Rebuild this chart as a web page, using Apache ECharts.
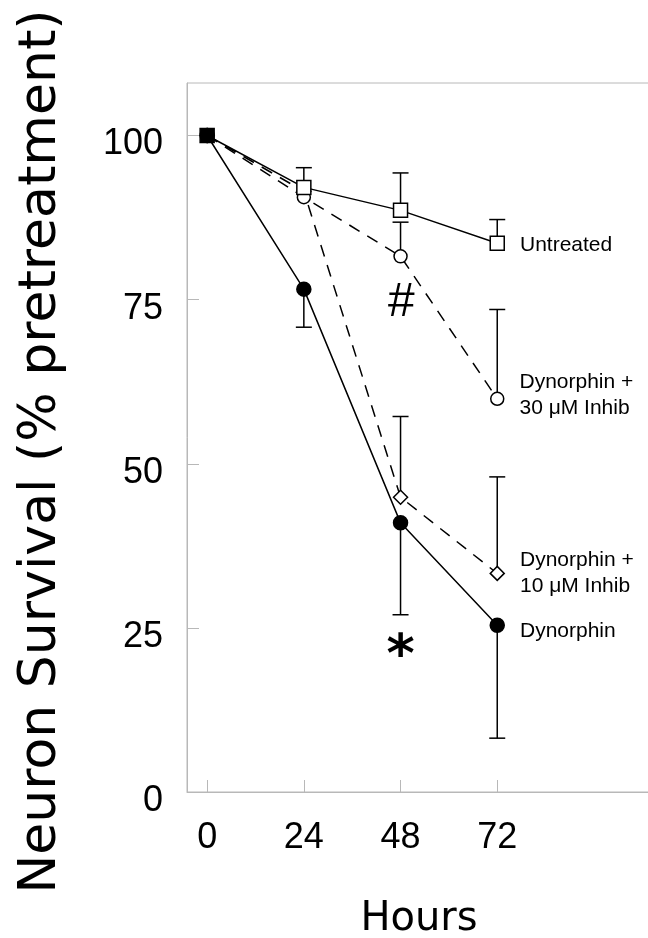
<!DOCTYPE html>
<html>
<head>
<meta charset="utf-8">
<script src="https://cdn.jsdelivr.net/npm/echarts@6/dist/echarts.min.js"></script>
<style>
  html, body { margin: 0; padding: 0; background: #fff; }
  #chart { width: 648px; height: 938px; }
</style>
</head>
<body>
<div id="chart"></div>
<script>
// hours after treatment
var hours = [0, 24, 48, 72];
var xTicks = [0, 24, 48, 72];
var yTicks = [0, 25, 50, 75, 100];

// survival (% pretreatment) and one-sided error bars
var untreated = [100, 92.1, 88.6, 83.6];
var untreatedErrUp = [0, 3.0, 5.7, 3.6];
var inhib30 = [100, 90.6, 81.6, 59.9];
var inhib30ErrUp = [0, 0, 5.2, 13.6];
var inhib10 = [100, 91.5, 44.9, 33.3];
var inhib10ErrUp = [0, 0, 12.3, 14.7];
var dynorphin = [100, 76.6, 41.0, 25.4];
var dynorphinErrDown = [0, 5.8, 14.0, 17.2];

var seriesNames = ['Untreated', 'Dynorphin +\n30 μM Inhib', 'Dynorphin +\n10 μM Inhib', 'Dynorphin'];

// significance marks at 48 h
var marks = [[48, 74.5, '#'], [48, 20.4, '*']];

var chart = echarts.init(document.getElementById('chart'));

function pairs(ys) {
    return hours.map(function (h, i) { return [h, ys[i]]; });
}

// error bar rows: [x, from, to]
function errRows(ys, up, down) {
    var rows = [];
    hours.forEach(function (h, i) {
        if (up && up[i] > 0) rows.push([h, ys[i], ys[i] + up[i]]);
        if (down && down[i] > 0) rows.push([h, ys[i], ys[i] - down[i]]);
    });
    return rows;
}

var errData = []
    .concat(errRows(untreated, untreatedErrUp))
    .concat(errRows(inhib30, inhib30ErrUp))
    .concat(errRows(inhib10, inhib10ErrUp))
    .concat(errRows(dynorphin, null, dynorphinErrDown));

function lineSeries(name, ys, symbol, size, fill, dashed, labelOffset) {
    var data = pairs(ys).map(function (p, i) {
        var d = { value: p };
        if (i === ys.length - 1) {
            d.label = {
                show: true,
                position: 'right',
                distance: 15,
                offset: [0, labelOffset],
                formatter: name,
                fontFamily: 'Liberation Sans',
                fontSize: 21,
                lineHeight: 26,
                color: '#000',
                align: 'left'
            };
        }
        return d;
    });
    return {
        name: name,
        type: 'line',
        data: data,
        symbol: symbol,
        symbolSize: size,
        showAllSymbol: true,
        animation: false,
        lineStyle: { color: '#000', width: 1.5, type: dashed ? [12, 9] : 'solid' },
        itemStyle: { color: fill, borderColor: '#000', borderWidth: 1.5 },
        z: 3
    };
}

var sDyn = lineSeries(seriesNames[3], dynorphin, 'circle', 14, '#000', false, 6);
var s10 = lineSeries(seriesNames[2], inhib10, 'diamond', 14, '#fff', true, 0);
var s30 = lineSeries(seriesNames[1], inhib30, 'circle', 13, '#fff', true, -4);
var sUnt = lineSeries(seriesNames[0], untreated, 'rect', 14, '#fff', false, 2);
// starting point drawn as a filled square
sUnt.data[0].itemStyle = { color: '#000' };

var markStyles = [
    { fontFamily: 'Liberation Sans', fontSize: 48, fontStyle: 'italic', fontWeight: 'normal' },
    { fontFamily: 'DejaVu Sans', fontSize: 54, fontStyle: 'normal', fontWeight: 'bold' }
];

var option = {
    backgroundColor: '#fff',
    grid: {
        left: 187, top: 83, right: -10, bottom: 146,
        outerBoundsMode: 'none',
        containLabel: false,
        show: true, borderColor: '#b8b8b8', borderWidth: 1
    },
    xAxis: {
        type: 'value',
        min: -5,
        max: 111.9,
        name: 'Hours',
        nameLocation: 'middle',
        nameGap: 108,
        nameTextStyle: { fontFamily: 'DejaVu Sans', fontSize: 40, color: '#000', padding: [0, 7, 0, 0] },
        axisLine: { show: true, onZero: false, lineStyle: { color: '#b8b8b8', width: 1 } },
        axisTick: { show: true, inside: true, length: 12, lineStyle: { color: '#b8b8b8' }, customValues: xTicks },
        axisLabel: { fontFamily: 'Liberation Sans', fontSize: 36, color: '#000', margin: 28, customValues: xTicks },
        splitLine: { show: false }
    },
    yAxis: {
        type: 'value',
        min: 0,
        max: 108,
        name: 'Neuron Survival (% pretreatment)',
        nameLocation: 'middle',
        nameRotate: 90,
        nameGap: 120,
        nameTextStyle: { fontFamily: 'DejaVu Sans', fontSize: 52, color: '#000', padding: [0, 28, 0, 0] },
        axisLine: { show: true, onZero: false, lineStyle: { color: '#b8b8b8', width: 1 } },
        axisTick: { show: true, inside: true, length: 12, lineStyle: { color: '#b8b8b8' }, customValues: yTicks },
        axisLabel: { fontFamily: 'Liberation Sans', fontSize: 36, color: '#000', margin: 24, verticalAlign: 'top', lineHeight: 18, customValues: yTicks },
        splitLine: { show: false }
    },
    series: [
        {
            type: 'custom',
            animation: false,
            z: 2,
            data: errData,
            renderItem: function (params, api) {
                var base = api.coord([api.value(0), api.value(1)]);
                var end = api.coord([api.value(0), api.value(2)]);
                var cap = 8;
                var st = { stroke: '#000', lineWidth: 1.5 };
                return {
                    type: 'group',
                    children: [
                        { type: 'line', shape: { x1: base[0], y1: base[1], x2: end[0], y2: end[1] }, style: st },
                        { type: 'line', shape: { x1: end[0] - cap, y1: end[1], x2: end[0] + cap, y2: end[1] }, style: st }
                    ]
                };
            }
        },
        sDyn, s10, s30, sUnt,
        {
            type: 'scatter',
            animation: false,
            symbolSize: 0,
            silent: true,
            itemStyle: { opacity: 1, color: '#000' },
            data: marks.map(function (m, i) {
                var st = markStyles[i];
                return {
                    value: [m[0], m[1]],
                    name: m[2],
                    label: {
                        show: true,
                        position: 'inside',
                        formatter: function (p) { return p.name; },
                        fontFamily: st.fontFamily,
                        fontSize: st.fontSize,
                        fontStyle: st.fontStyle,
                        fontWeight: st.fontWeight,
                        color: '#000',
                        opacity: 1,
                        textBorderWidth: 0
                    }
                };
            })
        }
    ]
};

chart.setOption(option);
</script>
</body>
</html>
